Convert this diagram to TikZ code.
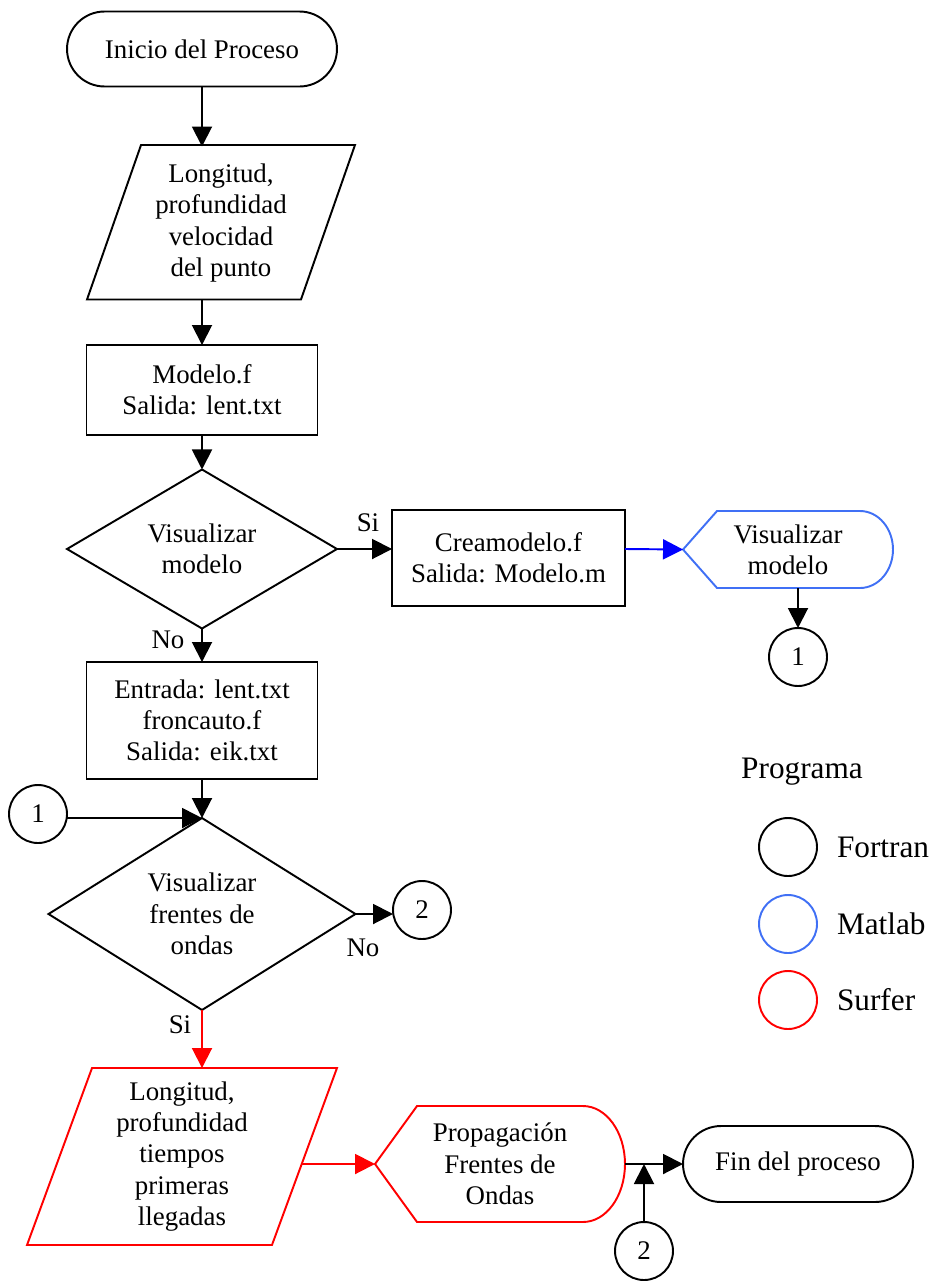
\documentclass[tikz,border=0pt]{standalone}
\usepackage{fontspec}
\setmainfont{Liberation Serif}
\usetikzlibrary{shapes.geometric,shapes.misc,arrows.meta}

\definecolor{matlabblue}{RGB}{64,112,245}

\tikzset{
  every node/.style={font=\fontsize{15.3}{17.8}\selectfont, align=center, inner sep=0pt, outer sep=0pt},
  flow/.style={line width=1.1pt},
  arr/.style={flow, -{Triangle[length=0.4cm,width=0.4cm]}},
  term/.style={draw, flow, rounded rectangle},
  proc/.style={draw, flow, rectangle},
  dec/.style={draw, flow, diamond},
  conn/.style={draw, flow, circle, minimum size=1.16cm},
  legtext/.style={font=\fontsize{17.8}{20}\selectfont},
}

\begin{document}
\begin{tikzpicture}[x=0.02cm, y=-0.02cm]
    \useasboundingbox (0,0) rectangle (936,1281);

    % main column
    \node[term, minimum width=5.4cm, minimum height=1.5cm] (start) at (202,49) {Inicio del Proceso};
    \node[minimum width=3.2cm, minimum height=3.06cm] (in1) at (221,223) {Longitud,\\profundidad\\velocidad\\del punto};
    \draw[flow] ([yshift=0.03cm]in1.north west) -- ([xshift=1.08cm,yshift=0.03cm]in1.north east) -- (in1.south east) -- ([xshift=-1.08cm]in1.south west) -- cycle;
    \node[proc, minimum width=4.62cm, minimum height=1.8cm] (mod) at (202,390) {Modelo.f\\Salida: lent.txt};
    \node[dec, minimum width=5.4cm, minimum height=3.06cm] (vmod) at (202,549) {Visualizar\\modelo};
    \node[proc, minimum width=4.62cm, minimum height=2.34cm] (ent) at (202,720.5) {Entrada: lent.txt\\froncauto.f\\Salida: eik.txt};
    \node[dec, minimum width=6.14cm, minimum height=3.84cm] (vfr) at (202,914) {Visualizar\\frentes de\\ondas};
    \node[minimum width=3.6cm, minimum height=3.54cm] (in2) at (182,1156.5) {Longitud,\\profundidad\\tiempos\\primeras\\llegadas};
    \draw[flow, red] (in2.north west) -- ([xshift=1.3cm]in2.north east) -- (in2.south east) -- ([xshift=-1.3cm]in2.south west) -- cycle;
    \coordinate (in2r) at (302,1164);

    % right branch
    \node[proc, minimum width=4.66cm, minimum height=1.92cm] (crea) at (508.5,558) {Creamodelo.f\\Salida: Modelo.m};
    \node[minimum width=4.2cm, minimum height=1.54cm] (vis) at (788,549.5) {Visualizar\\modelo};
    \draw[flow, matlabblue] (vis.west) -- ([xshift=0.68cm]vis.north west) -- ([xshift=-0.66cm]vis.north east)
        arc[start angle=90, end angle=-90, x radius=0.66cm, y radius=0.77cm] -- ([xshift=0.68cm]vis.south west) -- cycle;
    \node[conn] (c1a) at (798,657) {1};

    % connectors 1 and 2
    \node[conn] (c1b) at (38,814) {1};
    \node[conn] (c2a) at (422,910) {2};
    \node[conn] (c2b) at (644,1251) {2};
    \coordinate (j2) at (644,1164);

    % bottom row
    \node[minimum width=5.0cm, minimum height=2.32cm] (prop) at (500,1164) {Propagaci\'on\\Frentes de\\Ondas};
    \draw[flow, red] (prop.west) -- ([xshift=0.84cm]prop.north west) -- ([xshift=-0.84cm]prop.north east)
        arc[start angle=90, end angle=-90, x radius=0.84cm, y radius=1.16cm] -- ([xshift=0.84cm]prop.south west) -- cycle;
    \node[term, minimum width=4.6cm, minimum height=1.52cm] (fin) at (798,1164) {Fin del proceso};

    % labels
    \node (si1) at (368,523) {Si};
    \node (no1) at (168,640) {No};
    \node (no2) at (363,948) {No};
    \node (si2) at (180,1025) {Si};

    % legend
    \node[legtext] (prog) at (802,772) {Programa};
    \node[conn] (lfor) at (788,847) {};
    \node[conn, draw=matlabblue] (lmat) at (788,924) {};
    \node[conn, draw=red] (lsur) at (788,1000) {};
    \node[legtext, anchor=west] (tfor) at (837,847) {Fortran};
    \node[legtext, anchor=west] (tmat) at (837,924) {Matlab};
    \node[legtext, anchor=west] (tsur) at (837,1000) {Surfer};

    % arrows
    \draw[arr] (start.south) -- (start.south |- in1.north);
    \draw[arr] (mod.north |- in1.south) -- (mod.north);
    \draw[arr] (mod.south) -- (vmod.north);
    \draw[arr] (vmod.east) -- (vmod.east -| crea.west);
    \draw[arr, blue] (vmod.east -| crea.east) -- (vis.west);
    \draw[arr] (vis.south -| c1a) -- (c1a.north);
    \draw[arr] (vmod.south) -- (ent.north);
    \draw[arr] (ent.south) -- (vfr.north);
    \draw[arr] (c1b.east |- vfr.north) -- (vfr.north);
    \draw[arr] (vfr.east) -- (vfr.east -| c2a.west);
    \draw[arr, red] (vfr.south) -- (vfr.south |- in2.north);
    \draw[arr, red] (in2r) -- (prop.west);
    \draw[arr] (prop.east) -- (fin.west);
    \draw[arr] (c2b.north) -- (j2);
\end{tikzpicture}
\end{document}
